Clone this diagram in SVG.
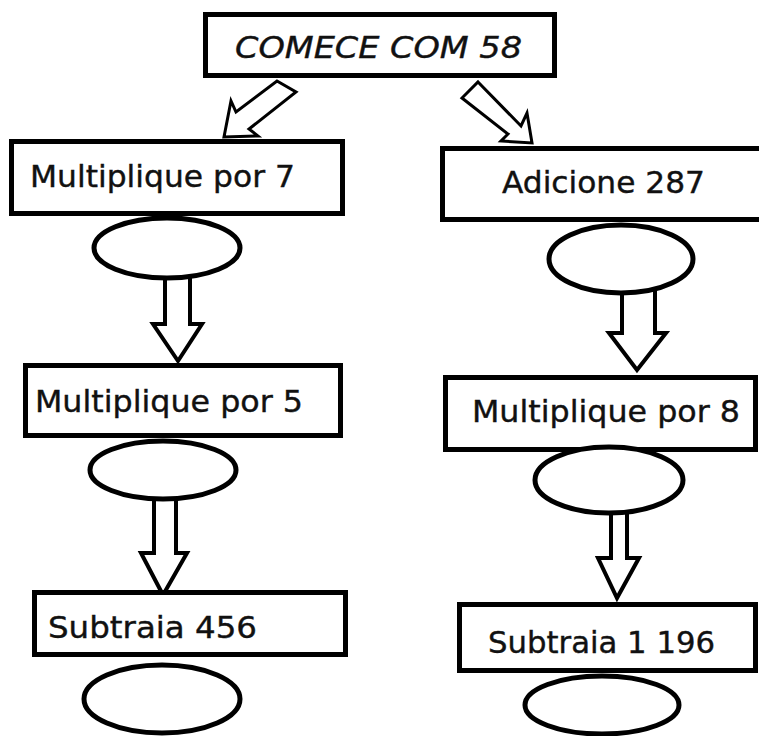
<svg xmlns="http://www.w3.org/2000/svg" width="759" height="736" viewBox="0 0 759 736">
<style>
.box{fill:#fff;stroke:#000;stroke-width:5}
.ell{fill:#fff;stroke:#000;stroke-width:5}
.arr{fill:#fff;stroke:#000;stroke-width:4;stroke-linejoin:miter}
.dia{fill:#fff;stroke:#000;stroke-width:3;stroke-linejoin:miter}
.t{font-family:"DejaVu Sans","Noto Sans",sans-serif;font-size:31px;fill:#111;stroke:#111;stroke-width:0.4}
.ti{font-family:"DejaVu Sans","Noto Sans",sans-serif;font-size:30px;font-style:italic;fill:#111;stroke:#111;stroke-width:0.4}
</style>
<rect width="759" height="736" fill="#fff"/>
<g id="connectors">
<polygon class="dia" points="277,81 296,92 249,129 258,136 224,137 231,101 236,112"/>
<polygon class="dia" points="478,82 521,126 527,113 532,143 501,141 508,134 462,98"/>
<polygon class="arr" points="165,270 190,270 190,324 202,324 178,361 153,324 165,324"/>
<polygon class="arr" points="154,490 176,490 176,553 187,553 163,595 141,553 154,553"/>
<polygon class="arr" points="622,285 655,285 655,333 666,333 637,370 609,333 622,333"/>
<polygon class="arr" points="611,505 627,505 627,558 639,558 617,598 598,558 611,558"/>
</g>
<g id="start">
<rect class="box" x="205.5" y="14.5" width="349" height="61"/>
<text class="ti" x="235" y="58" textLength="287" lengthAdjust="spacingAndGlyphs">COMECE COM 58</text>
</g>
<g id="mult7">
<rect class="box" x="11.5" y="141.5" width="331" height="72"/>
<text class="t" x="30" y="187" textLength="265" lengthAdjust="spacingAndGlyphs">Multiplique por 7</text>
</g>
<g id="ell-l1"><ellipse class="ell" cx="167" cy="248" rx="73" ry="30"/></g>
<g id="mult5">
<rect class="box" x="25.5" y="365.5" width="315" height="70"/>
<text class="t" x="35" y="412" textLength="268" lengthAdjust="spacingAndGlyphs">Multiplique por 5</text>
</g>
<g id="ell-l2"><ellipse class="ell" cx="163" cy="470" rx="73" ry="29"/></g>
<g id="sub456">
<rect class="box" x="34.5" y="592.5" width="311" height="62"/>
<text class="t" x="48" y="638" textLength="209" lengthAdjust="spacingAndGlyphs">Subtraia 456</text>
</g>
<g id="ell-l3"><ellipse class="ell" cx="162" cy="699" rx="78" ry="34"/></g>
<g id="add287">
<rect class="box" x="442.5" y="148.5" width="330" height="71"/>
<text class="t" x="502" y="193" textLength="203" lengthAdjust="spacingAndGlyphs">Adicione 287</text>
</g>
<g id="ell-r1"><ellipse class="ell" cx="621" cy="259" rx="72" ry="34"/></g>
<g id="mult8">
<rect class="box" x="445.5" y="377.5" width="310" height="72"/>
<text class="t" x="472" y="422" textLength="268" lengthAdjust="spacingAndGlyphs">Multiplique por 8</text>
</g>
<g id="ell-r2"><ellipse class="ell" cx="609" cy="480" rx="74" ry="33"/></g>
<g id="sub1196">
<rect class="box" x="459.5" y="604.5" width="296" height="66"/>
<text class="t" x="488" y="653" textLength="227" lengthAdjust="spacingAndGlyphs">Subtraia 1 196</text>
</g>
<g id="ell-r3"><ellipse class="ell" cx="602" cy="705" rx="77" ry="29"/></g>
</svg>
